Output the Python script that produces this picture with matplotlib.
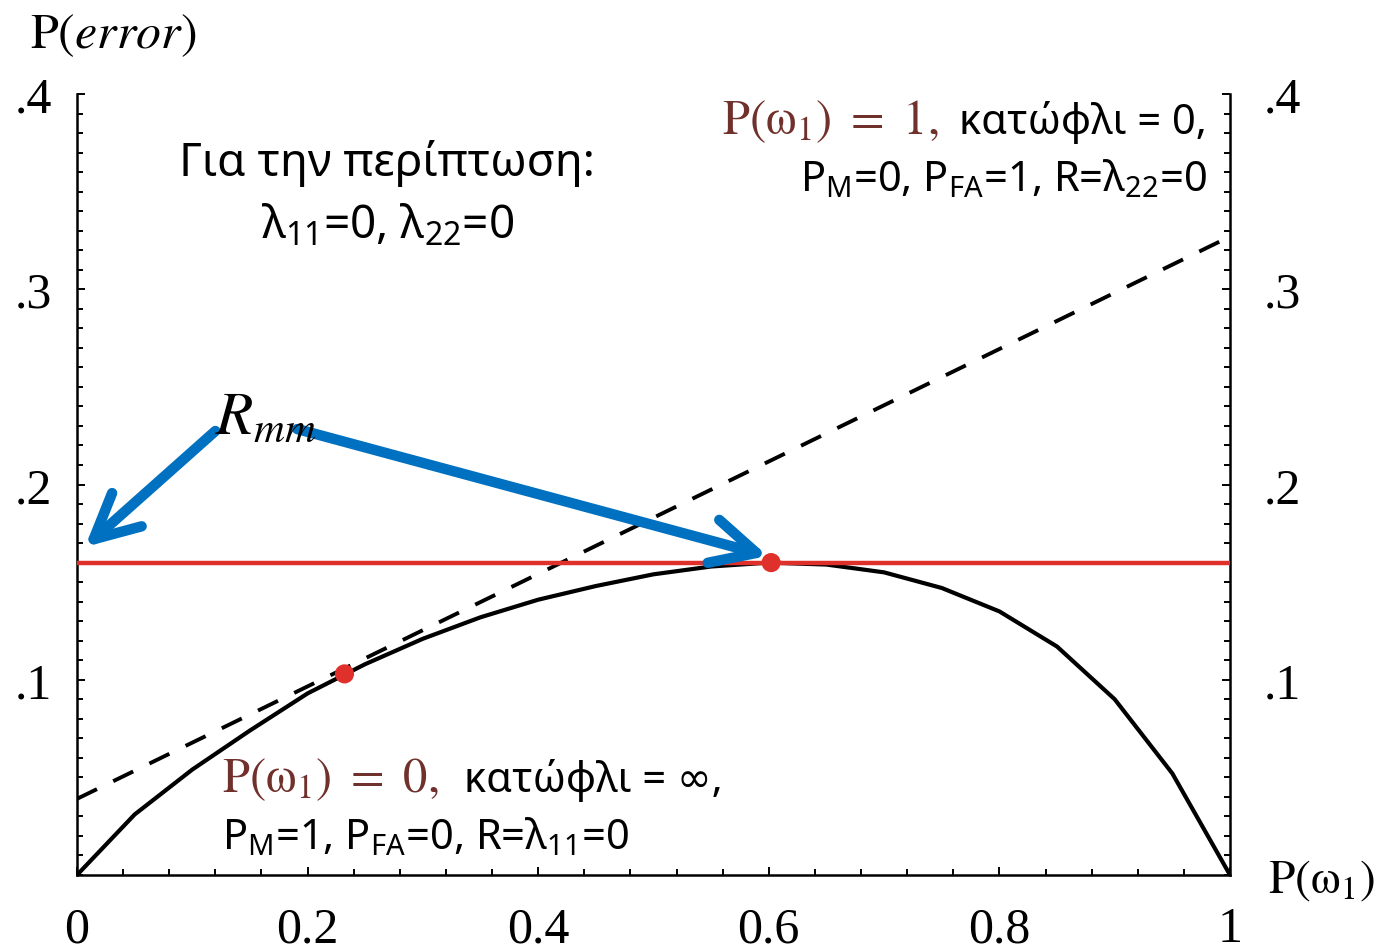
import matplotlib
matplotlib.use('Agg')
import matplotlib.pyplot as plt
from matplotlib.ticker import MultipleLocator, FixedLocator
from matplotlib.transforms import ScaledTranslation

plt.rcParams['font.family'] = ['Noto Sans', 'DejaVu Sans']
plt.rcParams['mathtext.fontset'] = 'custom'
plt.rcParams['mathtext.rm'] = 'Noto Sans'
plt.rcParams['mathtext.it'] = 'Noto Sans:italic'
plt.rcParams['mathtext.bf'] = 'Noto Sans:bold'
plt.rcParams['lines.scale_dashes'] = False

# curve P(error) vs P(w1)
p_w1 = [0, .05, .1, .15, .2, .25, .3, .35, .4, .45, .5, .55, .6, .65, .7, .75, .8, .85, .9, .95, 1]
p_err = [0, .031, .054, .074, .093, .108, .121, .132, .141, .148, .154, .158, .160, .159, .155, .147, .135, .117, .090, .052, 0]

# tangent (dashed) line end points
dash_x = [0, 1]
dash_y = [0.039, 0.327]

# minimax risk level and marked points
r_mm = 0.160
dot_x = [0.232, 0.602]
dot_y = [0.103, 0.160]

x_ticks = [0, 0.2, 0.4, 0.6, 0.8, 1]
x_labels = ['0', '0.2', '0.4', '0.6', '0.8', '1']
y_ticks = [0.1, 0.2, 0.3, 0.4]
y_labels = ['.1', '.2', '.3', '.4']

# arrow start/end (data coords)
arrow_start = [(0.120, 0.2274), (0.191, 0.2284)]
arrow_end = [(0.0069, 0.1680), (0.599, 0.1634)]

serif = 'Liberation Serif'
brown = '#70302C'
blue = '#0070C0'
red = '#E0302C'

fig = plt.figure(figsize=(13.79, 9.53), dpi=100)
ax = fig.add_axes([77 / 1379, 77 / 953, (1230 - 77) / 1379, (876 - 95) / 953])
ax.set_xlim(0, 1)
ax.set_ylim(0, 0.4)

ax.plot(p_w1, p_err, color='black', lw=3.0, zorder=3)
ax.plot(dash_x, dash_y, color='black', lw=2.8, dashes=(16, 13), zorder=3)
ax.axhline(r_mm, color=red, lw=3.2, zorder=4)
ax.scatter(dot_x, dot_y, s=190, color=red, zorder=5, edgecolors='none')

for s, e in zip(arrow_start, arrow_end):
    ax.annotate('', xy=e, xytext=s,
                arrowprops=dict(arrowstyle='->, head_length=1.6, head_width=0.8', lw=7.5,
                                color=blue, mutation_scale=20, shrinkA=0, shrinkB=0,
                                capstyle='round', joinstyle='round'),
                zorder=6)

ax.text(0.120, 0.2346, r'$R_{mm}$', math_fontfamily='stix', fontsize=44,
        ha='left', va='center', zorder=7)

# spines and ticks
ax.spines['top'].set_visible(False)
for sp in ['left', 'right', 'bottom']:
    ax.spines[sp].set_linewidth(1.8)
ax.xaxis.set_major_locator(FixedLocator(x_ticks))
ax.set_xticklabels(x_labels)
ax.xaxis.set_minor_locator(MultipleLocator(0.04))
ax.yaxis.set_major_locator(FixedLocator(y_ticks))
ax.set_yticklabels(y_labels)
ax.yaxis.set_minor_locator(MultipleLocator(0.01))
ax.tick_params(which='both', direction='in', left=True, right=True, bottom=True, top=False,
               labelright=True, width=1.4)
ax.tick_params(which='major', length=6)
ax.tick_params(which='minor', length=4)
ax.tick_params(axis='x', which='major', pad=22, labelsize=36)
ax.tick_params(axis='y', which='major', labelsize=36, pad=18)
for lab in ax.get_xticklabels() + ax.get_yticklabels():
    lab.set_family(serif)
# right-side labels sit a little further from the spine
shift = ScaledTranslation(6 / 72, 0, fig.dpi_scale_trans)
for t in ax.yaxis.get_major_ticks():
    t.label2.set_family(serif)
    t.label2.set_fontsize(36)
    t.label2.set_transform(t.label2.get_transform() + shift)

# axis titles
fig.text(30 / 1379, 1 - 35 / 953, r'$\mathrm{P}(error)$', math_fontfamily='stix',
         fontsize=36, ha='left', va='center')
fig.text(1268 / 1379, 1 - 880 / 953, r'$\mathrm{P(\omega_1)}$', math_fontfamily='stix',
         fontsize=34, ha='left', va='center')

# annotations
ax.text(0.269, 0.365, 'Για την περίπτωση:', fontsize=33, ha='center', va='center')
ax.text(0.269, 0.333, 'λ$_{11}$=0, λ$_{22}$=0', fontsize=33, ha='center', va='center')

ax.text(0.559, 0.380, r'$\mathrm{P(\omega_1)\ =\ 1,}$', math_fontfamily='stix', fontsize=35,
        color=brown, ha='left', va='baseline')
ax.text(0.980, 0.380, 'κατώφλι = 0,', fontsize=30, ha='right', va='baseline')
ax.text(0.980, 0.351, 'P$_\\mathrm{M}$=0, P$_\\mathrm{FA}$=1, R=λ$_{22}$=0', fontsize=30,
        ha='right', va='baseline')

ax.text(0.126, 0.043, r'$\mathrm{P(\omega_1)\ =\ 0,}$', math_fontfamily='stix', fontsize=35,
        color=brown, ha='left', va='baseline')
ax.text(0.336, 0.043, 'κατώφλι = ∞,', fontsize=30, ha='left', va='baseline')
ax.text(0.126, 0.014, 'P$_\\mathrm{M}$=1, P$_\\mathrm{FA}$=0, R=λ$_{11}$=0', fontsize=30,
        ha='left', va='baseline')

fig.savefig('out.png', dpi=100)
